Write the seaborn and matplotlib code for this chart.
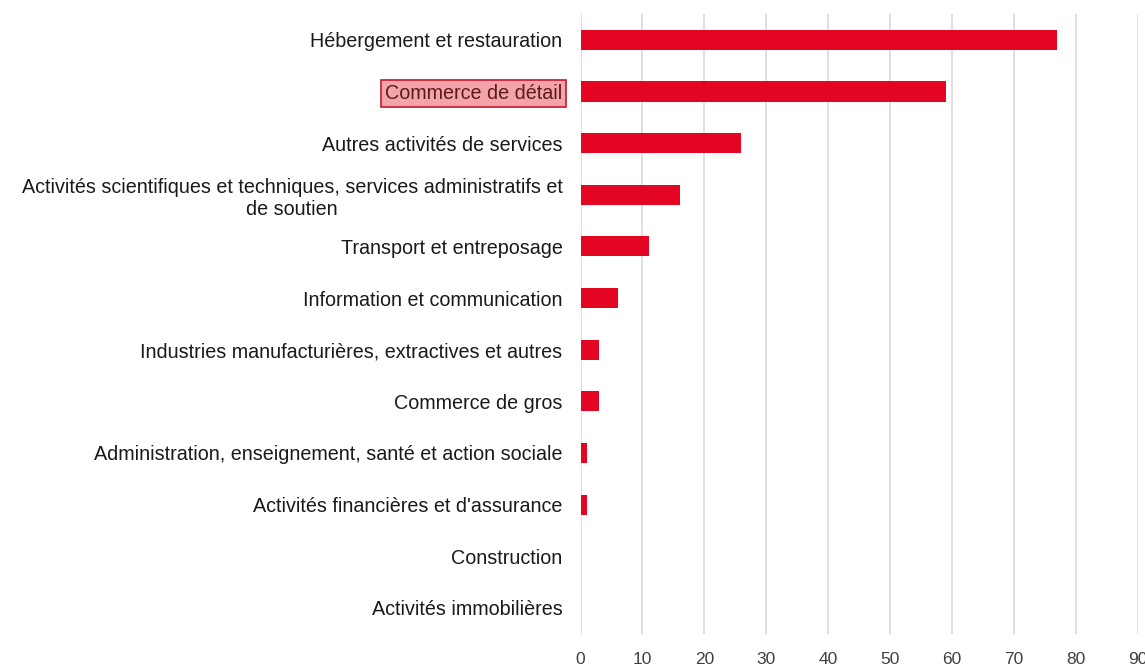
import matplotlib
matplotlib.use("Agg")
import matplotlib.pyplot as plt
import seaborn as sns
import pandas as pd

secteurs = [
    "Hébergement et restauration",
    "Commerce de détail",
    "Autres activités de services",
    "Activités scientifiques et techniques, services administratifs et\nde soutien",
    "Transport et entreposage",
    "Information et communication",
    "Industries manufacturières, extractives et autres",
    "Commerce de gros",
    "Administration, enseignement, santé et action sociale",
    "Activités financières et d'assurance",
    "Construction",
    "Activités immobilières",
]
valeurs = [77, 59, 26, 16, 11, 6, 3, 3, 1, 1, 0, 0]
x_ticks = [0, 10, 20, 30, 40, 50, 60, 70, 80, 90]

df = pd.DataFrame({"secteur": secteurs, "valeur": valeurs})

sns.set_theme(style="white")
plt.rcParams['font.family'] = ['Liberation Sans', 'DejaVu Sans']

fig = plt.figure(figsize=(11.45, 6.65), dpi=100)
ax = fig.add_axes([0.507, 0.047, 0.4865, 0.932])

sns.barplot(data=df, x="valeur", y="secteur", orient="h", color="#e30521",
            saturation=1, width=0.39, linewidth=0, ax=ax)

ax.set_xlim(0, 90)
ax.set_xticks(x_ticks)
ax.xaxis.grid(True, color="#d9d9d9", linewidth=1.2)
ax.set_axisbelow(True)
for s in ax.spines.values():
    s.set_visible(False)
ax.set_xlabel("")
ax.set_ylabel("")
ax.tick_params(axis="y", length=0, pad=13, labelsize=14.2, labelcolor="#1a1a1a")
ax.tick_params(axis="x", length=0, pad=13, labelsize=12.5, labelcolor="#404040")

for lab in ax.get_yticklabels():
    lab.set_multialignment("center")
    if lab.get_text() == "Commerce de détail":
        lab.set_color("#5c1a1a")
        lab.set_bbox(dict(facecolor="#f4a3ab", edgecolor="#c21a2c",
                          boxstyle="square,pad=0.2", linewidth=1.2))

fig.savefig("out.png", dpi=100)
